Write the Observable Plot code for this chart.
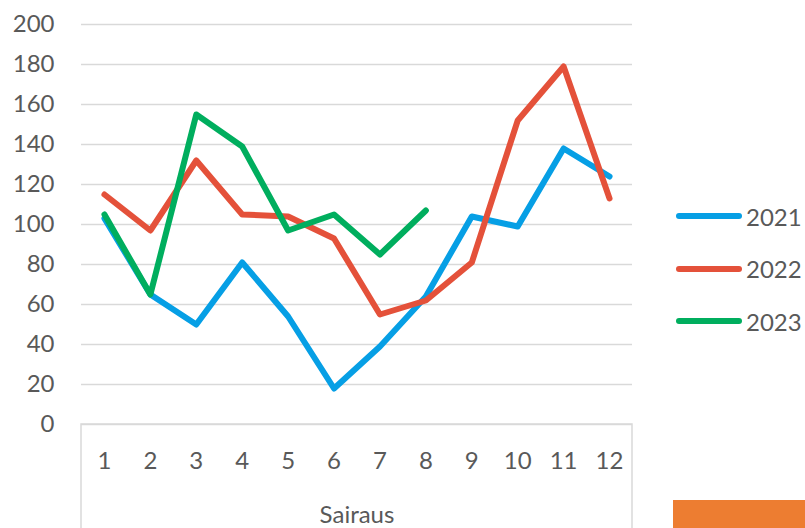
<!DOCTYPE html>
<html>
<head>
<meta charset="utf-8">
<script src="https://cdn.jsdelivr.net/npm/d3@7"></script>
<script src="https://cdn.jsdelivr.net/npm/@observablehq/plot@0.6"></script>
<style>
  html, body { margin: 0; padding: 0; background: #fff; }
  #wrap { position: relative; width: 805px; height: 528px; overflow: hidden; font-family: Lato, "Open Sans", sans-serif; }
  #legend { position: absolute; left: 676px; top: 190px; }
  .item { display: flex; align-items: center; height: 52.5px; font-size: 24px; color: #595959; white-space: nowrap; }
  .sw { width: 66px; height: 6px; border-radius: 3px; margin-right: 4px; }
  #btn { position: absolute; left: 673px; top: 500px; width: 132px; height: 28px; background: #ED7D31; }
</style>
</head>
<body>
<div id="wrap"></div>
<script>
const months = [1, 2, 3, 4, 5, 6, 7, 8, 9, 10, 11, 12];
const series = ["2021", "2022", "2023"];
const colors = ["#069FE5", "#E4513A", "#00AE5E"];
const v2021 = [103, 65, 50, 81, 54, 18, 39, 64, 104, 99, 138, 124];
const v2022 = [115, 97, 132, 105, 104, 93, 55, 62, 81, 152, 179, 113];
const v2023 = [105, 65, 155, 139, 97, 105, 85, 107];
const yTicks = [0, 20, 40, 60, 80, 100, 120, 140, 160, 180, 200];
const axisTitle = "Sairaus";

const values = [v2021, v2022, v2023];
const data = [];
series.forEach((s, i) => values[i].forEach((v, j) => data.push({month: months[j], value: v, year: s})));

const W = 805, H = 528;
const plot = Plot.plot({
  width: W,
  height: H,
  marginTop: 24,
  marginBottom: 104,
  marginLeft: 81,
  marginRight: 173,
  style: {fontFamily: "Lato, 'Open Sans', sans-serif", fontSize: "24px", color: "#595959", background: "#fff"},
  x: {type: "point", domain: months, padding: 0.5, round: false, label: null},
  y: {domain: [0, 200], label: null},
  color: {domain: series, range: colors},
  marks: [
    Plot.ruleY(yTicks, {stroke: "#d9d9d9", strokeWidth: 1.5}),
    Plot.axisY(yTicks, {tickSize: 0, tickPadding: 27, fill: "#595959", fontSize: 24, label: null}),
    Plot.axisX(months, {tickSize: 0, tickPadding: 27, fill: "#595959", fontSize: 24, label: null}),
    Plot.line(data, {x: "month", y: "value", z: "year", stroke: "year", strokeWidth: 6, strokeLinecap: "round", strokeLinejoin: "round"}),
    Plot.text([axisTitle], {frameAnchor: "bottom", dy: 91, lineAnchor: "middle", fill: "#595959", fontSize: 24})
  ]
});

// x-axis field box (pivot-chart style), positioned from the scales
const xr = plot.scale("x").range;
const y0 = plot.scale("y").apply(0);
const box = d3.select(plot).insert("g", ":first-child").attr("fill", "none").attr("stroke", "#d9d9d9").attr("stroke-width", 1.5);
box.append("path").attr("d", `M${xr[0]},${H}V${y0}H${xr[1]}V${H}`);

const wrap = document.getElementById("wrap");
wrap.appendChild(plot);

const legend = document.createElement("div");
legend.id = "legend";
series.forEach((s, i) => {
  const it = document.createElement("div");
  it.className = "item";
  const sw = document.createElement("div");
  sw.className = "sw";
  sw.style.background = colors[i];
  const t = document.createElement("span");
  t.textContent = s;
  it.appendChild(sw);
  it.appendChild(t);
  legend.appendChild(it);
});
wrap.appendChild(legend);

const btn = document.createElement("div");
btn.id = "btn";
wrap.appendChild(btn);
</script>
</body>
</html>
